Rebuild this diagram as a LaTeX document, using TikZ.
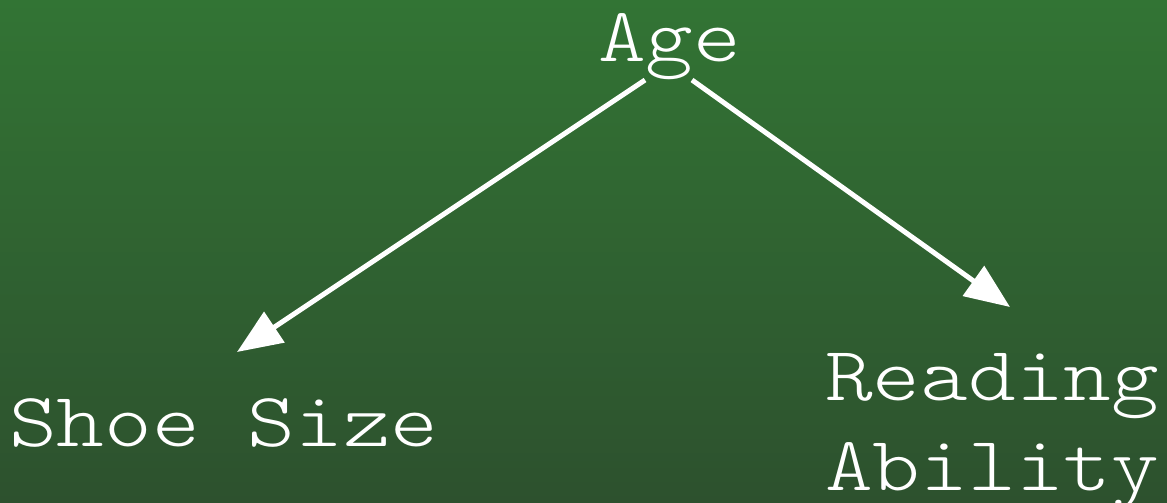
\documentclass[tikz,border=0pt]{standalone}
\usepackage{fontspec}
\setmonofont{Latin Modern Mono Light}
\usetikzlibrary{arrows.meta}
\definecolor{bgtop}{RGB}{50,116,52}
\definecolor{bgbot}{RGB}{45,81,46}
\newcommand{\wide}[1]{\scalebox{1.18}[1]{#1}}
\tikzset{
  lbl/.style={text=white, font=\ttfamily\fontsize{77}{90}\selectfont, inner sep=0pt, anchor=base west},
  arr/.style={draw=white, line width=5pt, -{Triangle[length=45pt,width=36pt]}}
}
\begin{document}
\begin{tikzpicture}[x=1pt,y=-1pt]
\useasboundingbox (0,0) rectangle (1167,503);
\shade[top color=bgtop, bottom color=bgbot] (0,0) rectangle (1167,503);
\node[lbl] (age) at (598,62) {\wide{Age}};
\node[lbl] (shoe) at (9,446) {\wide{Shoe Size}};
\node[lbl] (read) at (825,400) {\wide{\begin{tabular}[t]{@{}l@{}}Reading\\Ability\end{tabular}}};
\coordinate (a1) at (645,80);
\coordinate (a2) at (692,80);
\coordinate (s1) at (237,352);
\coordinate (r1) at (1010,307);
\draw[arr] (a1) -- (s1);
\draw[arr] (a2) -- (r1);
\end{tikzpicture}
\end{document}
